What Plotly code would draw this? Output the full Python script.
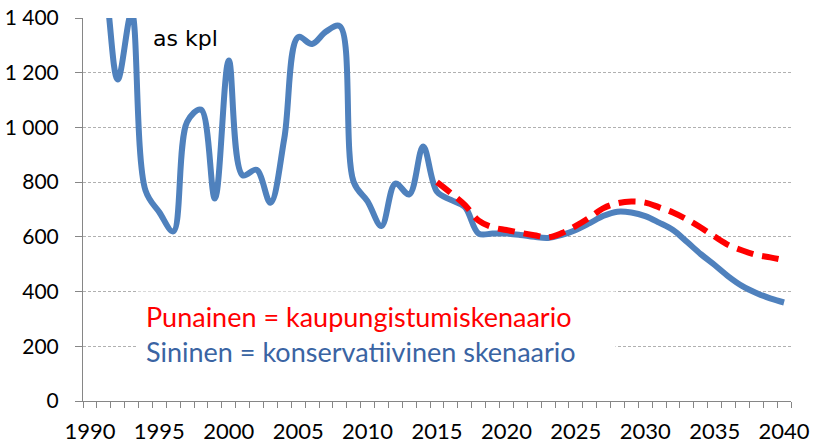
import plotly.graph_objects as go

years = list(range(1990, 2041))
blue = [1700, 1550, 1175, 1420, 770, 690, 620, 1020, 1065, 740,
        1245, 825, 845, 725, 960, 1330, 1305, 1350, 1370, 800,
        730, 640, 795, 755, 930, 765, 735, 710, 612, 612,
        612, 607, 600, 596, 607, 625, 650, 677, 692, 689,
        676, 652, 625, 582, 537, 497, 455, 420, 395, 375, 360]
red_years = list(range(2015, 2041))
red = [800, 760, 717, 659, 635, 625, 615, 606, 598, 614,
       640, 671, 705, 723, 729, 725, 708, 689, 664, 634,
       601, 570, 550, 534, 525, 515]
x_tick_vals = list(range(1990, 2041, 5))
x_tick_text = [str(v) for v in x_tick_vals]
y_tick_vals = [0, 200, 400, 600, 800, 1000, 1200, 1400]
y_tick_text = ["0", "200", "400", "600", "800", "1 000", "1 200", "1 400"]

fig = go.Figure()
fig.add_trace(go.Scatter(x=years, y=blue, mode="lines",
                         line=dict(color="#4F81BD", width=6, shape="spline", smoothing=1.0),
                         showlegend=False, hoverinfo="skip"))
fig.add_trace(go.Scatter(x=red_years, y=red, mode="lines",
                         line=dict(color="#FF0000", width=6, shape="spline", smoothing=1.0,
                                   dash="17px,9px"),
                         showlegend=False, hoverinfo="skip"))

W, H = 813, 447
L, R, T, B = 83, 22, 18, 46
pw, ph = W - L - R, H - T - B

fig.update_layout(
    width=W, height=H,
    margin=dict(l=L, r=R, t=T, b=B),
    paper_bgcolor="white", plot_bgcolor="white",
    xaxis=dict(range=[1989.5, 2040.5], tickmode="array", tickvals=x_tick_vals,
               ticktext=x_tick_text, ticks="outside", ticklen=0, showgrid=False,
               showline=True, linecolor="#868686", linewidth=1, zeroline=False,
               automargin=False,
               tickfont=dict(family="Lato", size=22, color="#000000"),
               ticklabelstandoff=11,
               minor=dict(tickmode="linear", tick0=1989.5, dtick=1, ticks="outside",
                          ticklen=6, tickcolor="#868686", showgrid=False)),
    yaxis=dict(range=[0, 1400], tickmode="array", tickvals=y_tick_vals,
               ticktext=y_tick_text, ticks="outside", ticklen=7, tickcolor="#868686",
               showgrid=True, gridcolor="#B0B0B0", griddash="3px,2px", gridwidth=1,
               showline=True, linecolor="#868686", linewidth=1, zeroline=False,
               automargin=False,
               tickfont=dict(family="Lato", size=21, color="#000000"),
               ticklabelstandoff=12),
)

fig.add_annotation(xref="paper", yref="paper", x=(151 - L) / pw, y=(H - B - 38) / ph,
                   xanchor="left", yanchor="middle", showarrow=False, text="as kpl",
                   font=dict(family="DejaVu Sans", size=22, color="#000000"))

fig.add_annotation(xref="paper", yref="paper", x=(137 - L) / pw, y=(H - B - 334) / ph,
                   xanchor="left", yanchor="middle", showarrow=False, align="left",
                   bgcolor="white", borderpad=8, width=461,
                   text=("<span style='color:#FF0000'>Punainen = kaupungistumiskenaario</span><br>"
                         "<span style='color:#3A64A3'>Sininen = konservatiivinen skenaario</span>"),
                   font=dict(family="Lato", size=27))

fig.write_html("out.html", config={"displayModeBar": False},
               post_script="document.body.style.margin='0';")
